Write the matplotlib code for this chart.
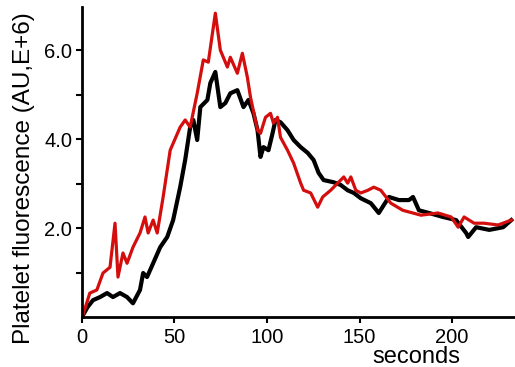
import matplotlib
matplotlib.use("Agg")
import matplotlib.pyplot as plt

plt.rcParams["font.family"] = ["Liberation Sans", "DejaVu Sans"]

# black trace (seconds, AU E+6)
black_t = [0, 3, 6, 9.8, 13.6, 16.8, 20.6, 24.4, 27.6, 31.4, 33.1, 35.2, 38.5, 42.3,
           46.1, 49.3, 53.1, 55.8, 58.5, 60.2, 62.3, 64.0, 67.8, 69.4, 72.1, 74.8,
           77.5, 80.2, 84.0, 87.3, 90.0, 92.7, 94.9, 96.5, 98.1, 100.8, 103.0, 104.6,
           107.3, 111.1, 114.4, 118.2, 122.0, 125.2, 127.9, 130.6, 136.0, 139.8,
           143.6, 146.9, 150.7, 156.1, 160.4, 165.9, 171.3, 176.7, 178.9, 182.1,
           187.5, 195.1, 202.2, 207.6, 208.7, 213.0, 220.1, 227.6, 232.0]
black_v = [0, 0.22, 0.38, 0.45, 0.54, 0.45, 0.54, 0.45, 0.31, 0.61, 0.99, 0.90, 1.21, 1.57,
           1.80, 2.18, 2.92, 3.53, 4.27, 4.43, 3.98, 4.72, 4.88, 5.26, 5.51, 4.72,
           4.81, 5.03, 5.10, 4.72, 4.88, 4.58, 4.20, 3.60, 3.82, 3.75, 4.13, 4.43,
           4.38, 4.20, 3.98, 3.82, 3.69, 3.53, 3.24, 3.08, 3.03, 2.97,
           2.85, 2.79, 2.67, 2.56, 2.34, 2.70, 2.63, 2.63, 2.70, 2.40,
           2.34, 2.25, 2.18, 1.89, 1.80, 2.02, 1.96, 2.02, 2.18]

# red trace
red_t = [0, 0.5, 4.3, 8.1, 11.4, 15.2, 17.9, 19.5, 22.2, 24.4, 27.6, 31.4, 34.1, 35.8,
         38.5, 40.7, 43.9, 47.7, 53.1, 55.8, 58.5, 62.3, 65.6, 68.3, 72.1, 74.8,
         78.6, 80.2, 84.0, 86.7, 89.4, 91.1, 94.9, 96.5, 99.2, 101.9, 103.5, 105.7,
         107.3, 111.1, 114.4, 118.2, 119.8, 123.6, 127.4, 130.1, 134.4, 138.2,
         141.5, 143.6, 145.3, 148.0, 150.7, 154.5, 157.7, 161.5, 166.9, 173.4,
         183.2, 192.4, 199.5, 203.3, 206.5, 211.9, 217.3, 224.9, 232.0]
red_v = [0, 0.04, 0.54, 0.61, 0.99, 1.12, 2.11, 0.90, 1.44, 1.21, 1.57, 1.89, 2.25, 1.89,
         2.18, 1.89, 2.70, 3.75, 4.27, 4.43, 4.27, 5.03, 5.78, 5.73, 6.83, 6.00,
         5.62, 5.84, 5.48, 5.93, 5.39, 4.94, 4.20, 4.13, 4.49, 4.58, 4.36, 4.49,
         4.04, 3.75, 3.46, 3.01, 2.85, 2.79, 2.47, 2.70, 2.85, 3.01,
         3.15, 3.01, 3.15, 2.85, 2.79, 2.85, 2.92, 2.85, 2.56, 2.40,
         2.29, 2.34, 2.25, 2.02, 2.25, 2.11, 2.11, 2.07, 2.18]

x_ticks = [0, 50, 100, 150, 200]
y_ticks = [1, 2, 3, 4, 5, 6]
y_labels = ["", "2.0", "", "4.0", "", "6.0"]

fig = plt.figure(figsize=(5.15, 3.67), dpi=100)
ax = fig.add_axes([0.159, 0.136, 0.841, 0.845])

ax.plot(black_t, black_v, color="black", lw=3.0, solid_joinstyle="round")
ax.plot(red_t, red_v, color="#d40d0d", lw=2.3, solid_joinstyle="round")

ax.set_xlim(0, 234)
ax.set_ylim(0, 6.97)
ax.set_xticks(x_ticks)
ax.set_yticks(y_ticks)
ax.set_yticklabels(y_labels)

for s in ["top", "right"]:
    ax.spines[s].set_visible(False)
for s in ["left", "bottom"]:
    ax.spines[s].set_linewidth(2.0)

ax.tick_params(axis="both", direction="out", length=4, width=1.5, labelsize=14.5)
ax.tick_params(axis="x", pad=4)
ax.tick_params(axis="y", pad=3)

fig.text(0.046, 0.516, "Platelet fluorescence (AU,E+6)", rotation=90,
         ha="center", va="center", fontsize=17.5)
# kept fully inside the canvas (the reference crops it slightly)
fig.text(0.808, 0.057, "seconds", ha="center", va="top", fontsize=17)

fig.savefig("out.png", dpi=100)
